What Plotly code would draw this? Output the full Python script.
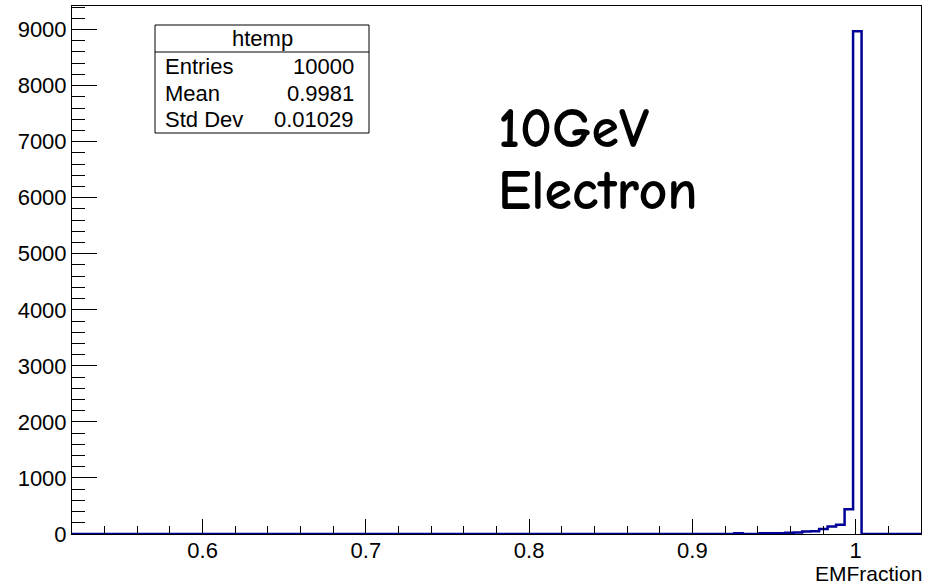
import numpy as np
import plotly.graph_objects as go

# Histogram definition: 100 bins of EMFraction on [0.52, 1.04]
bin_low = 0.52
bin_high = 1.04
n_bins = 100

# Bin contents (empty below bin 78, tail rising toward the peak just under 1)
tail_counts = [15, 0, 0, 12, 12, 15, 22, 25, 45, 50, 88, 132, 165, 440, 8970]
counts = [0] * 78 + tail_counts + [0] * (n_bins - 78 - len(tail_counts))

# Statistics box contents
stats_title = "htemp"
stats_labels = ["Entries", "Mean", "Std Dev"]
stats_values = ["10000", "0.9981", "0.01029"]

x_title = "EMFraction"
note_lines = ["10GeV", "Electron"]

edges = np.linspace(bin_low, bin_high, n_bins + 1)
y_steps = list(counts) + [counts[-1]]

FONT = "Liberation Sans, Arial, Helvetica, sans-serif"
LINE = "#000099"

fig = go.Figure()
fig.add_trace(go.Scatter(
    x=edges, y=y_steps, mode="lines", line_shape="hv",
    line=dict(color=LINE, width=2.5), hoverinfo="skip", showlegend=False,
))

W, H = 932, 585
ml, mr, mt, mb = 72, 11, 6, 51
pw, ph = W - ml - mr, H - mt - mb


def px(xp):
    return (xp - ml) / pw


def py(yp):
    return (H - mb - yp) / ph


fig.update_layout(
    width=W, height=H,
    margin=dict(l=ml, r=mr, t=mt, b=mb),
    paper_bgcolor="white", plot_bgcolor="white",
    font=dict(family=FONT, size=22, color="black"),
    showlegend=False,
)

fig.update_xaxes(
    range=[bin_low, bin_high], dtick=0.1, tick0=0.6,
    showgrid=False, zeroline=False,
    showline=True, linecolor="black", linewidth=1, mirror=True,
    ticks="inside", ticklen=15, tickcolor="black", tickwidth=1,
    minor=dict(ticks="inside", ticklen=8, dtick=0.02, tick0=0.6,
               tickcolor="black", showgrid=False),
    tickfont=dict(family=FONT, size=22),
    ticklabelstandoff=-3,
)
fig.update_yaxes(
    range=[0, 9420], dtick=1000,
    showgrid=False, zeroline=False,
    showline=True, linecolor="black", linewidth=1, mirror=True,
    ticks="inside", ticklen=25, tickcolor="black", tickwidth=1,
    minor=dict(ticks="inside", ticklen=13, dtick=200,
               tickcolor="black", showgrid=False),
    tickfont=dict(family=FONT, size=22),
)

# Axis title, right-aligned under the axis end
fig.add_annotation(
    xref="paper", yref="paper", x=1.0, y=py(573.5), xanchor="right", yanchor="middle",
    text=x_title, showarrow=False, font=dict(family=FONT, size=21),
    xshift=2, borderpad=0,
)

# Statistics box
bx0, bx1, by0, by1, bsep = 155, 369, 25, 133, 52
fig.add_shape(type="rect", xref="paper", yref="paper",
              x0=px(bx0), x1=px(bx1), y0=py(by1), y1=py(by0),
              line=dict(color="black", width=1), fillcolor="white", layer="above")
fig.add_shape(type="line", xref="paper", yref="paper",
              x0=px(bx0), x1=px(bx1), y0=py(bsep), y1=py(bsep),
              line=dict(color="black", width=1), layer="above")
fig.add_annotation(xref="paper", yref="paper", x=px((bx0 + bx1) / 2), y=py(38.5),
                   xanchor="center", yanchor="middle", text=stats_title,
                   showarrow=False, font=dict(family=FONT, size=22))
row_y = [67, 93.5, 119.5]
for lab, val, ry in zip(stats_labels, stats_values, row_y):
    fig.add_annotation(xref="paper", yref="paper", x=px(163), y=py(ry),
                       xanchor="left", yanchor="middle", text=lab,
                       showarrow=False, font=dict(family=FONT, size=22))
    fig.add_annotation(xref="paper", yref="paper", x=px(356), y=py(ry),
                       xanchor="right", yanchor="middle", text=val,
                       showarrow=False, font=dict(family=FONT, size=22))

# Beam label, one annotation per line
for line_text, cy in zip(note_lines, [129, 191]):
    fig.add_annotation(
        xref="paper", yref="paper", x=px(496), y=py(cy), xanchor="left", yanchor="middle",
        text="<b>" + line_text + "</b>", showarrow=False,
        font=dict(family="Comic Sans MS, Comic Neue, Lato, sans-serif", size=56, color="black"),
    )

fig.write_html("out.html")
